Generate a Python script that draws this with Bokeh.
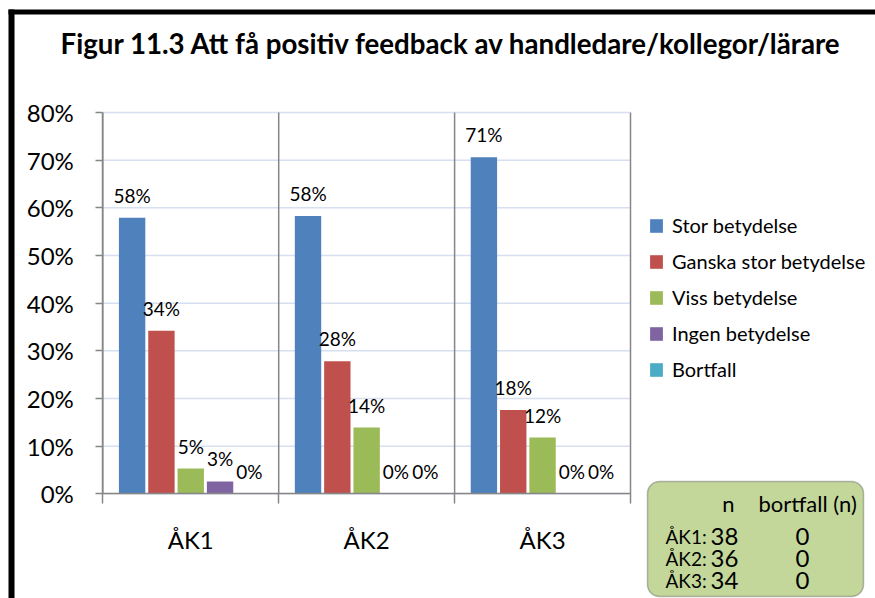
from bokeh.plotting import figure
from bokeh.models import (ColumnDataSource, Range1d, LinearAxis, FixedTicker,
                          NumeralTickFormatter, Legend, LegendItem, LabelSet, Label,
                          BoxAnnotation, GlobalInlineStyleSheet)
from bokeh.core.properties import value
from bokeh.embed import file_html
from bokeh.resources import INLINE

# ---------------- data ----------------
title_text = "Figur 11.3 Att få positiv feedback av handledare/kollegor/lärare"
categories = ["ÅK1", "ÅK2", "ÅK3"]
series_names = ["Stor betydelse", "Ganska stor betydelse", "Viss betydelse",
                "Ingen betydelse", "Bortfall"]
stor = [0.579, 0.583, 0.706]
ganska = [0.342, 0.278, 0.176]
viss = [0.053, 0.139, 0.118]
ingen = [0.026, 0.0, 0.0]
bortfall = [0.0, 0.0, 0.0]
colors = ["#4f81bd", "#c0504d", "#9bbb59", "#8064a2", "#4bacc6"]
y_ticks = [0.0, 0.1, 0.2, 0.3, 0.4, 0.5, 0.6, 0.7, 0.8]
n_values = [38, 36, 34]
bortfall_n = [0, 0, 0]
table_header = ["n", "bortfall (n)"]

FONT = "Lato"
series = [stor, ganska, viss, ingen, bortfall]
ncat = len(categories)
nser = len(series)
centers = [k + 0.5 for k in range(ncat)]
bounds = list(range(ncat + 1))
ymax = y_ticks[-1]

# ---------------- layout (pixels, measured from the page's top-left) ----------------
CW, CH = 875, 598            # canvas size
AX_X, AX_Y = 102.3, 493.3    # page position of the data origin
UX = 175.9                   # pixels per category
UY = 476.6                   # pixels per 1.0 on the y scale
x_rng = Range1d(-AX_X / UX, (CW - AX_X) / UX)
y_rng = Range1d(-(CH - AX_Y) / UY, AX_Y / UY)

p = figure(x_range=x_rng, y_range=y_rng, width=CW, height=CH, title=None,
           output_backend="svg", toolbar_location=None,
           x_axis_location=None, y_axis_location=None,
           min_border_left=0, min_border_right=0, min_border_top=0, min_border_bottom=0)
p.stylesheets = [GlobalInlineStyleSheet(css="html, body { overflow: hidden !important; }")]
p.outline_line_color = None
p.background_fill_color = "white"
p.border_fill_color = "white"
for g in p.grid:
    g.visible = False

# outer chart border (left and top edges visible)
for l, r, t, b in [(8, 14, CH - 9, 0), (8, CW, CH - 9, CH - 14)]:
    p.add_layout(BoxAnnotation(left=l, right=r, top=t, bottom=b,
                               left_units="screen", right_units="screen",
                               top_units="screen", bottom_units="screen",
                               fill_color="black", fill_alpha=1, line_color=None,
                               level="overlay"))

# title
p.add_layout(Label(x=60, y=CH - 43, x_units="screen", y_units="screen", text=title_text,
                   text_align="left", text_baseline="middle", text_font=FONT,
                   text_font_style="bold", text_font_size="27.7px", text_color="black"))

# grid lines and category separators (only over the plot area)
p.segment(x0=[0] * len(y_ticks), x1=[ncat] * len(y_ticks), y0=y_ticks, y1=y_ticks,
          line_color="#d6e0f0", line_width=1.5)
p.segment(x0=bounds, x1=bounds, y0=[0] * len(bounds), y1=[ymax] * len(bounds),
          line_color="#868686", line_width=1.5)

# y axis (drawn at x = 0)
yaxis = LinearAxis(fixed_location=0, ticker=FixedTicker(ticks=y_ticks),
                   formatter=NumeralTickFormatter(format="0%"), bounds=(0, ymax),
                   major_label_text_font=FONT, major_label_text_font_size="24px",
                   major_label_text_color="black", major_label_standoff=22,
                   axis_line_color="#868686", axis_line_width=1.5,
                   major_tick_line_color="#868686", major_tick_line_width=1.5,
                   major_tick_in=0, major_tick_out=7, minor_tick_line_color=None)
p.add_layout(yaxis, "left")

# x axis drawn at y = 0: boundary ticks + category labels
xaxis = LinearAxis(fixed_location=0, ticker=FixedTicker(ticks=bounds), bounds=(0, ncat),
                   major_label_text_font_size="0px", major_label_text_alpha=0,
                   axis_line_color="#868686", axis_line_width=1.5,
                   major_tick_line_color="#868686", major_tick_line_width=1.5,
                   major_tick_in=0, major_tick_out=10, minor_tick_line_color=None)
p.add_layout(xaxis, "below")
cat_axis = LinearAxis(fixed_location=0, ticker=FixedTicker(ticks=centers),
                      major_label_overrides={c: lab for c, lab in zip(centers, categories)},
                      axis_line_color=None, major_tick_line_color=None,
                      major_tick_in=0, major_tick_out=0, minor_tick_line_color=None,
                      major_label_text_font=FONT, major_label_text_font_size="24px",
                      major_label_text_color="black", major_label_standoff=31)
p.add_layout(cat_axis, "below")

# bars + value labels
items = []
for i in range(nser):
    off = (i - (nser - 1) / 2) / (nser + 1)
    src = ColumnDataSource(dict(x=[c + off for c in centers], top=series[i],
                                lbl=[f"{round(v * 100)}%" for v in series[i]]))
    r = p.vbar(x="x", top="top", width=0.9 / (nser + 1), source=src,
               fill_color=colors[i], line_color=None)
    items.append(LegendItem(label=series_names[i], renderers=[r]))
    p.add_layout(LabelSet(x="x", y="top", text="lbl", source=src,
                          text_align="center", text_baseline="alphabetic", y_offset=15,
                          text_font=value(FONT), text_font_size=value("19px"),
                          text_color="black"))

legend = Legend(items=items, location=(648, CH - 381), orientation="vertical",
                glyph_width=16, glyph_height=17, label_standoff=8, spacing=12,
                label_height=24, padding=0, margin=0, border_line_color=None,
                background_fill_alpha=0, label_text_font=FONT,
                label_text_font_size="20px", label_text_color="black")
p.add_layout(legend)

# n / bortfall table box
p.add_layout(BoxAnnotation(left=647, right=863, top=CH - 481, bottom=2,
                           left_units="screen", right_units="screen",
                           top_units="screen", bottom_units="screen",
                           fill_color="#c4d79b", fill_alpha=1, line_color="#262626",
                           line_width=1.5, border_radius=12, level="overlay"))
p.add_layout(Label(x=728, y=CH - 503, x_units="screen", y_units="screen",
                   text=table_header[0], text_align="center", text_baseline="middle",
                   text_font=FONT, text_font_size="22px", text_color="black",
                   level="overlay"))
p.add_layout(Label(x=758, y=CH - 503, x_units="screen", y_units="screen",
                   text=table_header[1], text_align="left", text_baseline="middle",
                   text_font=FONT, text_font_size="22px", text_color="black",
                   level="overlay"))
row_y = [CH - 536 - 22 * k for k in range(ncat)]
tsrc = ColumnDataSource(dict(ak=[c + ":" for c in categories],
                             n=[str(v) for v in n_values],
                             b=[str(v) for v in bortfall_n], y=row_y))
for col, x, align, size in [("ak", 665, "left", "19px"), ("n", 724, "center", "24px"),
                            ("b", 802, "center", "24px")]:
    p.add_layout(LabelSet(x=x, y="y", text=col, source=tsrc, x_units="screen",
                          y_units="screen", text_align=align, text_baseline="middle",
                          text_font=value(FONT), text_font_size=value(size),
                          text_color="black", level="overlay"))

open("out.html", "w").write(file_html(p, INLINE))
